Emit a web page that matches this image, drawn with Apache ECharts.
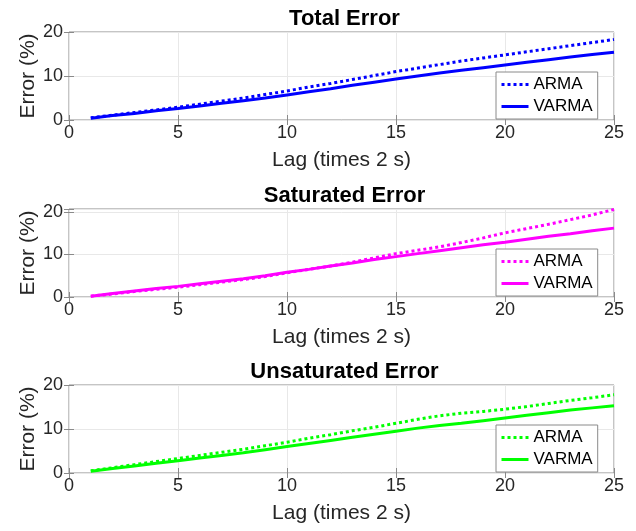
<!DOCTYPE html>
<html>
<head>
<meta charset="utf-8">
<script src="https://cdn.jsdelivr.net/npm/echarts@6/dist/echarts.min.js"></script>
<style>
  html, body { margin: 0; padding: 0; background: #fff; }
  #chart { width: 636px; height: 531px; }
</style>
</head>
<body>
<div id="chart"></div>
<script>
// Lag index (times 2 s)
const lags = [1, 2, 3, 4, 5, 6, 7, 8, 9, 10, 11, 12, 13, 14, 15, 16, 17, 18, 19, 20, 21, 22, 23, 24, 25];

// Prediction error (%) per lag
const totalArma     = [0.5, 1.1, 1.7, 2.3, 2.9, 3.6, 4.3, 5.0, 5.8, 6.6, 7.5, 8.3, 9.2, 10.1, 11.0, 11.8, 12.6, 13.4, 14.1, 14.8, 15.5, 16.2, 16.9, 17.6, 18.3];
const totalVarma    = [0.4, 1.0, 1.5, 2.1, 2.6, 3.2, 3.8, 4.4, 5.0, 5.7, 6.4, 7.1, 7.9, 8.6, 9.3, 10.0, 10.7, 11.3, 11.9, 12.5, 13.1, 13.7, 14.3, 14.9, 15.4];
const satArma       = [0.2, 0.7, 1.3, 1.8, 2.3, 2.9, 3.5, 4.1, 4.8, 5.7, 6.5, 7.3, 8.2, 9.2, 10.2, 11.0, 11.8, 12.8, 13.9, 15.1, 16.1, 17.1, 18.2, 19.3, 20.6];
const satVarma      = [0.2, 0.8, 1.4, 2.0, 2.5, 3.1, 3.7, 4.3, 5.0, 5.8, 6.5, 7.3, 8.0, 8.8, 9.5, 10.2, 10.9, 11.6, 12.3, 12.9, 13.6, 14.3, 14.9, 15.6, 16.2];
const unsatArma     = [0.5, 1.2, 1.9, 2.6, 3.3, 4.0, 4.7, 5.4, 6.2, 7.0, 7.9, 8.7, 9.6, 10.4, 11.3, 12.2, 13.0, 13.6, 14.0, 14.5, 15.1, 15.8, 16.5, 17.1, 17.8];
const unsatVarma    = [0.4, 1.0, 1.6, 2.2, 2.8, 3.4, 4.0, 4.6, 5.3, 6.0, 6.7, 7.4, 8.1, 8.8, 9.5, 10.2, 10.8, 11.3, 11.9, 12.5, 13.1, 13.7, 14.3, 14.8, 15.3];

const panelTitles = ['Total Error', 'Saturated Error', 'Unsaturated Error'];
const seriesNames = ['ARMA', 'VARMA'];
const xAxisName = 'Lag (times 2 s)';
const yAxisName = 'Error (%)';

const FONT = '"Liberation Sans", Arial, Helvetica, sans-serif';
const panels = [
  { key: 'Total',   color: '#0000ff', arma: totalArma, varma: totalVarma, top: 32,  yMax: 20 },
  { key: 'Sat',     color: '#ff00ff', arma: satArma,   varma: satVarma,   top: 209, yMax: 20.7 },
  { key: 'Unsat',   color: '#00ff00', arma: unsatArma, varma: unsatVarma, top: 385, yMax: 20 }
];

const GRID_LEFT = 69, GRID_RIGHT = 22, GRID_H = 88;
const plotCenter = GRID_LEFT + (636 - GRID_LEFT - GRID_RIGHT) / 2;

const option = {
  animation: false,
  backgroundColor: '#ffffff',
  textStyle: { fontFamily: FONT },
  title: [],
  legend: [],
  grid: [],
  xAxis: [],
  yAxis: [],
  series: []
};

const frameColor = '#8a8a8a';
const gridColor = '#e8e8e8';
const labelColor = '#262626';

panels.forEach((p, i) => {
  option.title.push({
    text: panelTitles[i],
    left: plotCenter - 2,
    top: p.top - 29,
    textAlign: 'center',
    textStyle: { fontFamily: FONT, fontSize: 22, fontWeight: 'bold', color: '#000' }
  });

  option.grid.push({
    left: GRID_LEFT, right: GRID_RIGHT, top: p.top, height: GRID_H,
    show: true, borderColor: frameColor, borderWidth: 1, backgroundColor: '#fff'
  });

  // bottom x axis with labels
  option.xAxis.push({
    type: 'value', gridIndex: i, min: 0, max: 25, interval: 5,
    name: xAxisName, nameLocation: 'middle', nameGap: 30, nameMoveOverlap: false,
    nameTextStyle: { fontFamily: FONT, fontSize: 21, color: labelColor },
    axisLine: { show: false },
    axisTick: { show: true, inside: true, length: 5, lineStyle: { color: frameColor } },
    axisLabel: { fontFamily: FONT, fontSize: 18, color: labelColor, margin: 4 },
    splitLine: { show: true, lineStyle: { color: gridColor, width: 1 } }
  });
  // top x axis: ticks only
  option.xAxis.push({
    type: 'value', gridIndex: i, position: 'top', min: 0, max: 25, interval: 5,
    axisLine: { show: false },
    axisTick: { show: true, inside: true, length: 5, lineStyle: { color: frameColor } },
    axisLabel: { show: false },
    splitLine: { show: false }
  });

  option.yAxis.push({
    type: 'value', gridIndex: i, min: 0, max: p.yMax, interval: 10,
    name: yAxisName, nameLocation: 'middle', nameGap: 30, nameRotate: 90, nameMoveOverlap: false,
    nameTextStyle: { fontFamily: FONT, fontSize: 21, color: labelColor },
    axisLine: { show: false },
    axisTick: { show: true, inside: true, length: 5, lineStyle: { color: frameColor } },
    axisLabel: {
      fontFamily: FONT, fontSize: 18, color: labelColor, margin: 6,
      formatter: v => (v % 10 === 0 ? String(v) : '')
    },
    splitLine: { show: true, lineStyle: { color: gridColor, width: 1 } }
  });
  option.yAxis.push({
    type: 'value', gridIndex: i, position: 'right', min: 0, max: p.yMax, interval: 10,
    axisLine: { show: false },
    axisTick: { show: true, inside: true, length: 5, lineStyle: { color: frameColor } },
    axisLabel: { show: false },
    splitLine: { show: false }
  });

  const armaName = p.key + '|' + seriesNames[0];
  const varmaName = p.key + '|' + seriesNames[1];

  option.series.push({
    name: armaName, type: 'line', xAxisIndex: 2 * i, yAxisIndex: 2 * i,
    symbol: 'none', smooth: false, z: 3,
    lineStyle: { color: p.color, width: 3, type: [3, 3] },
    itemStyle: { color: p.color },
    data: lags.map((x, k) => [x, p.arma[k]])
  });
  option.series.push({
    name: varmaName, type: 'line', xAxisIndex: 2 * i, yAxisIndex: 2 * i,
    symbol: 'none', smooth: false, z: 2,
    lineStyle: { color: p.color, width: 3, type: 'solid' },
    itemStyle: { color: p.color },
    data: lags.map((x, k) => [x, p.varma[k]])
  });

  option.legend.push({
    data: [armaName, varmaName],
    orient: 'vertical',
    left: 496, top: p.top + 40,
    padding: [4, 5, 4, 4],
    itemGap: 5,
    itemWidth: 27, itemHeight: 16,
    backgroundColor: '#ffffff',
    borderColor: frameColor, borderWidth: 1, borderRadius: 0,
    selectedMode: false,
    itemStyle: { opacity: 0 },
    lineStyle: { width: 3 },
    formatter: n => n.split('|')[1],
    textStyle: { fontFamily: FONT, fontSize: 17, color: '#000' }
  });
});

const chart = echarts.init(document.getElementById('chart'), null, { renderer: 'canvas' });
chart.setOption(option);
</script>
</body>
</html>
